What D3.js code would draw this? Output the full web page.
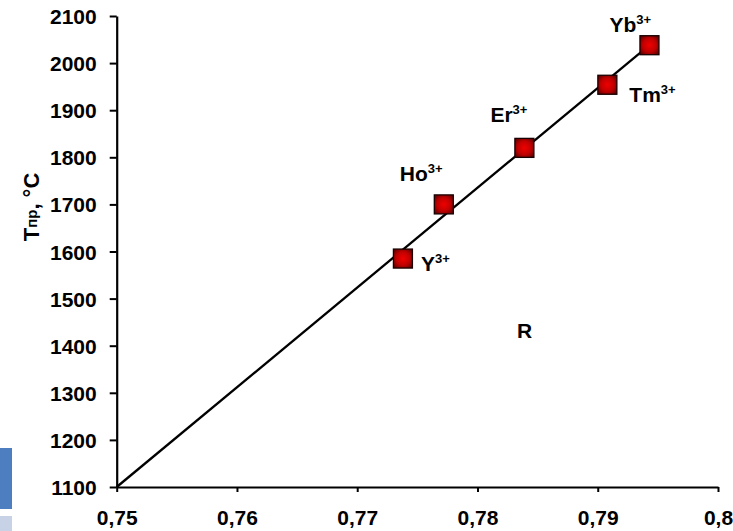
<!DOCTYPE html>
<html>
<head>
<meta charset="utf-8">
<script src="https://cdn.jsdelivr.net/npm/d3@7"></script>
<style>
  html, body { margin: 0; padding: 0; background: #fff; }
  svg { display: block; font-family: "Liberation Sans", Arial, sans-serif; font-weight: bold; }
</style>
</head>
<body>
<svg id="chart" width="733" height="531"></svg>
<script>
// Ionic radius R vs. melting temperature for the rare-earth ions
const ions = ["Y", "Ho", "Er", "Tm", "Yb"];
const radius = [0.7738, 0.7772, 0.7839, 0.7908, 0.7943];
const tMelt = [1585, 1700, 1820, 1954, 2038];
const ionCharge = "3+";

// label offsets from each marker (px)
const labelDx = [18, -44, -34, 22, -40];
const labelDy = [12, -23, -26, 17, -13];

// linear trend drawn across the data
const trendX = [0.75, 0.7943];
const trendY = [1100, 2038];

const xTicks = [0.75, 0.76, 0.77, 0.78, 0.79, 0.8];
const yTicks = [1100, 1200, 1300, 1400, 1500, 1600, 1700, 1800, 1900, 2000, 2100];

const svg = d3.select("#chart");

const x = d3.scaleLinear().domain([0.75, 0.8]).range([116.7, 718]);
const y = d3.scaleLinear().domain([1100, 2100]).range([487, 16]);

const ru = d3.formatLocale({ decimal: ",", thousands: " ", grouping: [3], currency: ["", ""] });
const fmtX = ru.format("~g");
const fmtY = ru.format("d");

// side decoration blocks
svg.append("rect").attr("x", 0).attr("y", 448).attr("width", 12).attr("height", 61).attr("fill", "#4d7fc0");
svg.append("rect").attr("x", 0).attr("y", 516).attr("width", 12).attr("height", 15).attr("fill", "#c8d2e7");

// marker gradient
const defs = svg.append("defs");
const grad = defs.append("radialGradient").attr("id", "mk").attr("cx", "50%").attr("cy", "50%").attr("r", "65%");
grad.append("stop").attr("offset", "0%").attr("stop-color", "#f00000");
grad.append("stop").attr("offset", "55%").attr("stop-color", "#c00000");
grad.append("stop").attr("offset", "100%").attr("stop-color", "#5a0000");

// axes
const yAxis = svg.append("g")
  .attr("transform", `translate(${x(0.75)},0)`)
  .call(d3.axisLeft(y).tickValues(yTicks).tickFormat(fmtY).tickSize(7).tickPadding(13).tickSizeOuter(0));
const xAxis = svg.append("g")
  .attr("transform", `translate(0,${y(1100)})`)
  .call(d3.axisBottom(x).tickValues(xTicks).tickFormat(fmtX).tickSize(5).tickPadding(18).tickSizeOuter(0));

[xAxis, yAxis].forEach(g => {
  g.select(".domain").attr("stroke", "#000").attr("stroke-width", 2.2);
  g.selectAll(".tick line").attr("stroke", "#000").attr("stroke-width", 2);
  g.selectAll(".tick text")
    .attr("fill", "#000")
    .style("font-size", "21px")
    .style("font-weight", "bold")
    .style("font-family", "'Liberation Sans', Arial, sans-serif");
});
yAxis.selectAll(".tick text").attr("dy", "0.36em");

// y-axis title: T with subscript "пр", degrees Celsius
const yTitle = svg.append("text")
  .attr("transform", "translate(39,207) rotate(-90)")
  .attr("text-anchor", "middle")
  .style("font-size", "22px")
  .attr("fill", "#000");
yTitle.append("tspan").text("T");
yTitle.append("tspan").style("font-size", "15px").attr("dy", -2).text("пр");
yTitle.append("tspan").attr("dy", 2).text(", °C");

// trend line
const line = d3.line().x(d => x(d[0])).y(d => y(d[1]));
svg.append("path")
  .datum(d3.zip(trendX, trendY))
  .attr("d", line)
  .attr("fill", "none")
  .attr("stroke", "#000")
  .attr("stroke-width", 2.3);

// markers
const pts = ions.map((name, i) => ({ name, r: radius[i], t: tMelt[i], dx: labelDx[i], dy: labelDy[i] }));
const size = 19;
svg.append("g").selectAll("rect")
  .data(pts)
  .join("rect")
  .attr("x", d => x(d.r) - size / 2)
  .attr("y", d => y(d.t) - size / 2)
  .attr("width", size)
  .attr("height", size)
  .attr("fill", "url(#mk)")
  .attr("stroke", "#1a0000")
  .attr("stroke-width", 1.3);

// ion labels
const lbl = svg.append("g").selectAll("text")
  .data(pts)
  .join("text")
  .attr("x", d => x(d.r) + d.dx)
  .attr("y", d => y(d.t) + d.dy)
  .attr("fill", "#000")
  .style("font-size", "21px");
lbl.append("tspan").text(d => d.name);
lbl.append("tspan").style("font-size", "13px").attr("dy", -8).text(ionCharge);

// R marker text
svg.append("text")
  .attr("x", 517)
  .attr("y", 338)
  .attr("fill", "#000")
  .style("font-size", "21px")
  .text("R");
</script>
</body>
</html>
